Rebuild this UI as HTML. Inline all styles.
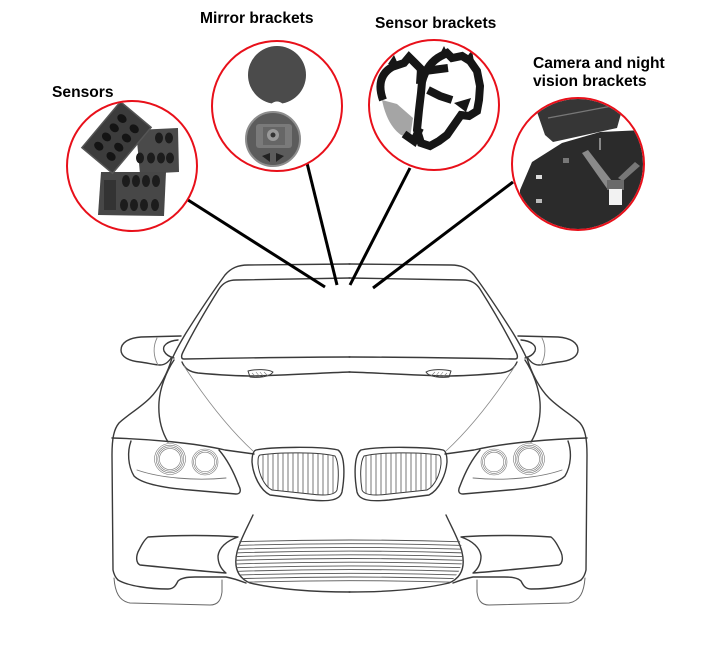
<!DOCTYPE html>
<html><head><meta charset="utf-8"><style>
html,body{margin:0;padding:0;background:#fff;}
svg{display:block;}
text{font-family:"Liberation Sans",Arial,sans-serif;font-weight:bold;font-size:15.6px;fill:#000;}
</style></head><body>
<svg width="704" height="649" viewBox="0 0 704 649" xmlns="http://www.w3.org/2000/svg">
<defs>
  <clipPath id="cS"><circle cx="132" cy="166" r="64"/></clipPath>
  <clipPath id="cM"><circle cx="277" cy="106" r="64"/></clipPath>
  <clipPath id="cB"><circle cx="434" cy="105" r="64"/></clipPath>
  <clipPath id="cC"><circle cx="578" cy="164" r="65"/></clipPath>
  <clipPath id="kid"><path d="M260,455 C280,452 320,452 335,456 C339,462 339,478 337,490 C335,495 325,496 310,494 L272,490 C264,486 259,474 258,464 C258,459 258,456 260,455Z"/></clipPath>
  <clipPath id="intake"><path d="M240,539 C300,536 400,536 459,539 C465,552 465,570 449,583 C420,590 380,592 349.5,592 C320,592 280,590 250,583 C236,577 234,565 237,552 Z"/></clipPath>
  <g id="half">
    <g fill="none" stroke="#3a3a3a" stroke-width="1.4" stroke-linecap="round" stroke-linejoin="round">
      <path d="M350,264 L248,265 C238,265 231,268 225,275 C214,290 198,314 186,333 C180,343 176,350 173,357"/>
      <path d="M350,278 L236,280 C228,280 223,283 219,289 C207,308 193,332 183,352 C181,356 181,359 184,359 C240,358 300,357 350,357"/>
      <path d="M182,362 C185,369 190,372 198,373 C220,375 240,376 255,376 C290,375 320,373 350,372"/>
      <path d="M248,371 C255,369 268,369 273,372 C270,377 258,378 250,377 Z" stroke-width="1"/>
      <path d="M181,336 L141,337 C128,338 121,343 121,350 C121,357 129,361 140,362 C148,363 155,365 160,365 C166,365 169,361 172,357"/>
      <path d="M178,340 C167,341 162,346 164,351 C166,355 170,357 174,358"/>
      <path d="M157,338 C153,346 153,356 158,365" stroke="#888" stroke-width="0.9"/>
      <path d="M174,360 C166,372 160,388 159,402 C158,418 162,432 168,442"/>
      <path d="M172,358 C168,372 160,388 150,398 C140,408 126,416 119,423 C114,429 112,438 112,455 L113,570 C114,575 116,578 118,580"/>
      <path d="M112,438 C150,439 195,443 225,450 L254,454"/>
      <path d="M131,441 C127,452 128,466 134,476 C142,484 165,488 190,490 L236,494 C241,494 241,490 239,486 C233,470 226,458 219,450"/>
      <path d="M137,470 C160,478 195,481 226,478" stroke="#777" stroke-width="0.9"/>
      <path d="M184,366 C205,398 228,428 253,451" stroke="#888" stroke-width="0.8"/>
      <path d="M256,450 C270,447 320,446 338,450 C345,455 345,475 342,492 C340,500 330,502 310,500 L270,495 C260,490 253,475 252,462 C252,455 253,451 256,450 Z"/>
      <path d="M260,455 C280,452 320,452 335,456 C339,462 339,478 337,490 C335,495 325,496 310,494 L272,490 C264,486 259,474 258,464 C258,459 258,456 260,455Z" stroke-width="1"/>
      <path d="M148,537 C175,535 215,535 238,537 C226,541 219,548 218,556 C218,563 221,569 226,573 C200,571 160,567 140,565 C136,563 136,557 138,552 C141,546 144,540 148,537 Z"/>
      <path d="M253,515 C247,528 240,540 237,552 C234,565 236,577 250,583 C280,590 320,592 350,592"/>
      <path d="M118,580 C128,586 150,589 168,589 C174,589 176,585 178,581 C181,578 186,577 195,577 L226,577 C232,578 238,580 246,583"/>
      <path d="M114,578 C115,592 119,601 130,603 L210,605 C218,605 221,600 222,592 L222,580" stroke="#666" stroke-width="1"/>
    </g>
    <g stroke="#777" stroke-width="0.6" fill="none">
      <path d="M252,373 L256,377 M256,372 L260,377 M260,372 L264,377 M264,372 L268,376"/>
      <circle cx="170" cy="459" r="15.5"/><circle cx="170" cy="459" r="13.8"/><circle cx="170" cy="459" r="12.2"/><circle cx="170" cy="459" r="10.6"/>
      <circle cx="205" cy="462" r="13"/><circle cx="205" cy="462" r="11.4"/><circle cx="205" cy="462" r="9.8"/>
    </g>
    <g clip-path="url(#kid)" stroke="#555" stroke-width="0.8">
      <path d="M263,440V510M268,440V510M273,440V510M278,440V510M283,440V510M288,440V510M293,440V510M298,440V510M303,440V510M308,440V510M313,440V510M318,440V510M323,440V510M328,440V510M333,440V510"/>
    </g>
  </g>
</defs>

<!-- car -->
<use href="#half"/>
<use href="#half" transform="matrix(-1 0 0 1 699 0)"/>
<g clip-path="url(#intake)" stroke="#555" stroke-width="0.9" fill="none">
  <path d="M230,542 Q350,538 470,542"/><path d="M230,545.7 Q350,541.7 470,545.7"/><path d="M230,549.4 Q350,545.4 470,549.4"/>
  <path d="M230,553.1 Q350,549.1 470,553.1"/><path d="M230,556.8 Q350,552.8 470,556.8"/><path d="M230,560.5 Q350,556.5 470,560.5"/>
  <path d="M230,564.2 Q350,560.2 470,564.2"/><path d="M230,567.9 Q350,563.9 470,567.9"/><path d="M230,571.6 Q350,567.6 470,571.6"/>
  <path d="M230,575.3 Q350,571.3 470,575.3"/><path d="M230,579 Q350,575 470,579"/><path d="M230,582.7 Q350,578.7 470,582.7"/>
</g>

<!-- connectors -->
<g stroke="#000" stroke-width="3" stroke-linecap="butt">
  <line x1="188" y1="200" x2="325" y2="287"/>
  <line x1="307" y1="163" x2="337" y2="285"/>
  <line x1="410" y1="168" x2="350" y2="285"/>
  <line x1="513" y1="182" x2="373" y2="288"/>
</g>

<!-- Sensors image -->
<g clip-path="url(#cS)">
  <rect x="60" y="100" width="150" height="140" fill="#fff"/>
  <polygon points="136,130 178,128 179,172 140,174" fill="#4a4a4a"/>
  <g fill="#1c1c1c">
    <ellipse cx="159" cy="138" rx="4" ry="5.5"/><ellipse cx="169" cy="138" rx="4" ry="5.5"/>
    <ellipse cx="140" cy="158" rx="4" ry="5.5"/><ellipse cx="151" cy="158" rx="4" ry="5.5"/><ellipse cx="161" cy="158" rx="4" ry="5.5"/><ellipse cx="170" cy="158" rx="4" ry="5.5"/>
  </g>
  <polygon points="101,172 166,172 164,216 98,215" fill="#474747"/>
  <g fill="#1c1c1c">
    <ellipse cx="126" cy="181" rx="4" ry="6"/><ellipse cx="136" cy="181" rx="4" ry="6"/><ellipse cx="146" cy="181" rx="4" ry="6"/><ellipse cx="156" cy="181" rx="4" ry="6"/>
    <ellipse cx="124" cy="205" rx="4" ry="6"/><ellipse cx="134" cy="205" rx="4" ry="6"/><ellipse cx="144" cy="205" rx="4" ry="6"/><ellipse cx="155" cy="205" rx="4" ry="6"/>
    <rect x="104" y="180" width="12" height="30" fill="#333"/>
  </g>
  <g transform="translate(116.5,137.5) rotate(40)">
    <rect x="-20" y="-30" width="40" height="60" fill="#3c3c3c" stroke="#555" stroke-width="1.5"/>
    <g fill="#141414">
      <ellipse cx="-8" cy="-18" rx="5" ry="4"/><ellipse cx="-8" cy="-6" rx="5" ry="4"/><ellipse cx="-8" cy="6" rx="5" ry="4"/><ellipse cx="-8" cy="18" rx="5" ry="4"/>
      <ellipse cx="8" cy="-18" rx="5" ry="4"/><ellipse cx="8" cy="-6" rx="5" ry="4"/><ellipse cx="8" cy="6" rx="5" ry="4"/><ellipse cx="8" cy="18" rx="5" ry="4"/>
    </g>
  </g>
</g>
<circle cx="132" cy="166" r="65" fill="none" stroke="#e8101a" stroke-width="2"/>

<!-- Mirror brackets image -->
<g clip-path="url(#cM)">
  <circle cx="277" cy="75" r="29" fill="#4b4b4b"/>
  <path d="M271,104 Q277,99 283,104 Z" fill="#fff"/>
  <circle cx="273" cy="139" r="27" fill="#5c5c5c" stroke="#8e8e8e" stroke-width="2"/>
  <rect x="256" y="124" width="36" height="24" rx="3" fill="#7a7a7a"/>
  <rect x="263" y="127" width="22" height="18" fill="#666"/>
  <circle cx="273" cy="135" r="6" fill="#999"/>
  <circle cx="273" cy="135" r="2.5" fill="#333"/>
  <polygon points="262,156 270,153 270,162" fill="#222"/>
  <polygon points="284,156 276,153 276,162" fill="#222"/>
</g>
<circle cx="277" cy="106" r="65" fill="none" stroke="#e8101a" stroke-width="2"/>

<!-- Sensor brackets image -->
<g clip-path="url(#cB)">
  <path d="M382,100 C385,115 391,128 401,135 L410,138 L413,118 L397,104 Z" fill="#a5a5a5"/>
  <g fill="none" stroke="#161616" stroke-width="8" stroke-linejoin="miter">
    <path d="M383,100 C378,86 380,74 392,67 L404,63 L409,57 L415,63 L421,69 L420,84"/>
    <path d="M404,134 L414,141 L420,128"/>
    <path d="M422,82 C425,69 433,60 441,56 L447,53 L452,58 L462,56 L470,61 L477,71 L480,86 L479,100 L477,111 L469,116 L461,115 L454,125 L447,135 L439,141 L430,146 L421,143 L417,130 L419,110 L421,93 Z"/>
    <path d="M417,72 L448,68"/>
    <path d="M428,90 L440,96 L452,100"/>
  </g>
  <path d="M454,103 L466,112 L471,98 Z" fill="#161616"/>
  <path d="M388,64 L394,55 L398,64 Z M440,54 L444,46 L448,54 Z M466,58 L472,50 L474,62 Z" fill="#161616"/>
</g>
<circle cx="434" cy="105" r="65" fill="none" stroke="#e8101a" stroke-width="2"/>

<!-- Camera image -->
<g clip-path="url(#cC)">
  <polygon points="537,112 545,95 625,95 622,110 617,128 553,142 545,135" fill="#363636"/>
  <polyline points="548,118 575,113 612,106" fill="none" stroke="#777" stroke-width="1.2"/>
  <polygon points="532,162 562,143 600,132 645,130 650,240 520,240 520,190" fill="#2b2b2b"/>
  <polygon points="582,153 588,150 615,185 608,190" fill="#8a8a8a"/>
  <polygon points="635,162 640,166 623,181 618,178" fill="#777"/>
  <rect x="607" y="180" width="17" height="10" fill="#6a6a6a"/>
  <rect x="609" y="189" width="13" height="16" fill="#f2f2f2"/>
  <rect x="536" y="175" width="6" height="4" fill="#ddd"/>
  <rect x="536" y="199" width="6" height="4" fill="#bbb"/>
  <rect x="563" y="158" width="6" height="5" fill="#777"/>
  <line x1="600" y1="138" x2="600" y2="150" stroke="#888" stroke-width="2"/>
</g>
<circle cx="578" cy="164" r="66" fill="none" stroke="#e8101a" stroke-width="2"/>

<!-- labels -->
<text x="200" y="23">Mirror brackets</text>
<text x="375" y="28">Sensor brackets</text>
<text x="52" y="97">Sensors</text>
<text x="533" y="68">Camera and night</text>
<text x="533" y="86">vision brackets</text>
</svg>
</body></html>
